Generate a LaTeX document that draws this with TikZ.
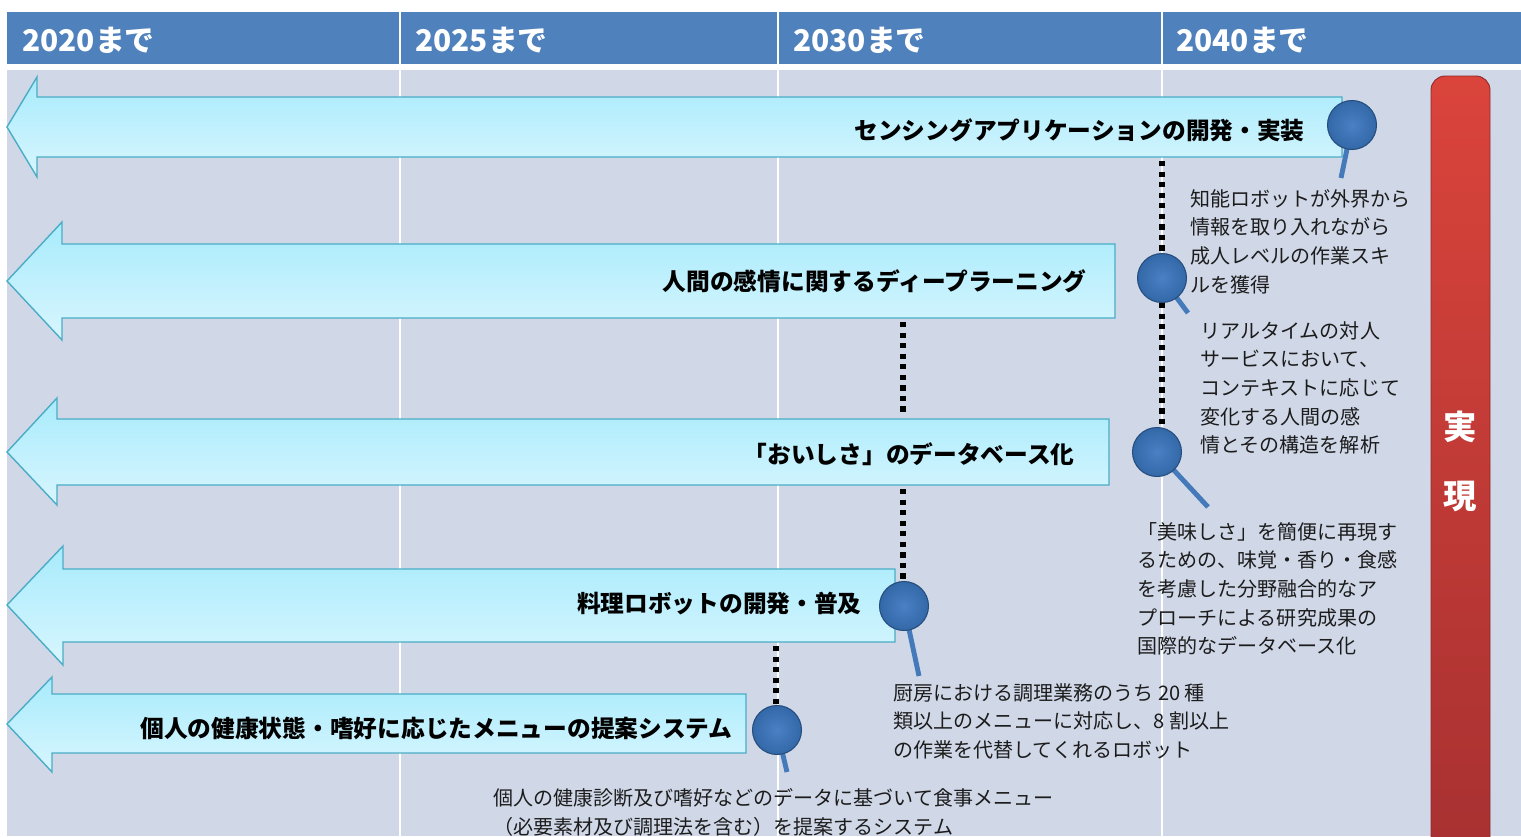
\documentclass[tikz,border=0pt]{standalone}
\usepackage{fontspec}
\setmainfont{Noto Sans CJK JP}
\usetikzlibrary{positioning, calc}
\definecolor{headblue}{HTML}{4F81BD}
\definecolor{bodygrey}{HTML}{D0D8E8}
\definecolor{arrowedge}{HTML}{4BACC6}
\definecolor{arrowtop}{HTML}{A8EBFC}
\definecolor{arrowbot}{HTML}{D8F6FE}
\definecolor{pinblue}{HTML}{3A76BF}
\definecolor{stickblue}{HTML}{4479BA}
\definecolor{realred}{HTML}{DA443B}
\definecolor{realdark}{HTML}{A83131}
\definecolor{inkblack}{HTML}{1C1C1C}

\begin{document}
\begin{tikzpicture}[
  x=0.02cm, y=-0.02cm,
  year/.style={anchor=west, font=\fontsize{17}{20}\selectfont\bfseries, text=white, inner sep=0pt},
  barrow/.style={draw=arrowedge, line width=0.8pt, top color=arrowtop, bottom color=arrowbot},
  goal/.style={anchor=east, font=\fontsize{13.5}{16}\selectfont\bfseries, text=black, inner sep=0pt},
  note/.style={anchor=north west, align=left, font=\fontsize{11.4}{16.3}\selectfont, text=inkblack, inner sep=0pt},
  pin/.style={circle, minimum size=0.98cm, inner sep=0pt, draw=pinblue!65!black, line width=0.6pt,
              inner color=pinblue!92!white, outer color=pinblue!88!black},
  stick/.style={stickblue, line width=2.8pt},
  dots/.style={black, line width=3pt, dash pattern=on 3pt off 3pt},
  realtext/.style={font=\fontsize{19}{22}\selectfont\bfseries, text=white, inner sep=0pt}
]
  \useasboundingbox (0,0) rectangle (1521,836);

  % Header row and body
  \fill[headblue] (7,12) rectangle (1521,64);
  \fill[bodygrey] (7,70) rectangle (1521,836);
  \draw[white, line width=1.2pt] (400,12) -- (400,836);
  \draw[white, line width=1.2pt] (778,12) -- (778,836);
  \draw[white, line width=1.2pt] (1162,12) -- (1162,836);

  \node[year] (y2020) at (22,40) {2020まで};
  \node[year] (y2025) at (415,40) {2025まで};
  \node[year] (y2030) at (793,40) {2030まで};
  \node[year] (y2040) at (1176,40) {2040まで};

  % Block arrows
  \path[barrow] (7,127) -- (37,77) -- (37,97) -- (1342,97) -- (1342,157) -- (37,157) -- (37,177) -- cycle;
  \path[barrow] (7,281) -- (62,222) -- (62,244) -- (1115,244) -- (1115,318) -- (62,318) -- (62,340) -- cycle;
  \path[barrow] (7,452) -- (57,398) -- (57,419) -- (1109,419) -- (1109,485) -- (57,485) -- (57,505) -- cycle;
  \path[barrow] (7,605) -- (63,546) -- (63,569) -- (895,569) -- (895,642) -- (63,642) -- (63,665) -- cycle;
  \path[barrow] (7,724) -- (52,677) -- (52,694) -- (746,694) -- (746,753) -- (52,753) -- (52,772) -- cycle;

  \node[goal] (g1) at (1305,130) {センシングアプリケーションの開発・実装};
  \node[goal] (g2) at (1087,281) {人間の感情に関するディープラーニング};
  \node[goal] (g3) at (1075,454) {「おいしさ」のデータベース化};
  \node[goal] (g4) at (862,604) {料理ロボットの開発・普及};
  \node[goal] (g5) at (733,728) {個人の健康状態・嗜好に応じたメニューの提案システム};

  \coordinate (a1low) at (1162,161);
  \coordinate (a2low) at (903,322);
  \coordinate (a3top) at (903,415);
  \coordinate (a3low) at (903,489);
  \coordinate (a4low) at (776,646);

  % Pins
  \coordinate (c1) at (1352,125);
  \coordinate (c2) at (1162,278);
  \coordinate (c3) at (1157,452);
  \coordinate (c4) at (904,606);
  \coordinate (c5) at (777,730);
  \draw[stick] (c1) -- (1341,178);
  \draw[stick] (c2) -- (1188,313);
  \draw[stick] (c3) -- (1208,507);
  \draw[stick] (c4) -- (919,676);
  \draw[stick] (c5) -- (787,772);
  \node[pin] (p1) at (c1) {};
  \node[pin] (p2) at (c2) {};
  \node[pin] (p3) at (c3) {};
  \node[pin] (p4) at (c4) {};
  \node[pin] (p5) at (c5) {};

  % Dotted links
  \draw[dots] (a1low) -- (p2.north);
  \draw[dots] (p2.south) -- (p2.south |- p3.north);
  \draw[dots] (a2low) -- (a3top);
  \draw[dots] (a3low) -- (a3low |- p4.north);
  \draw[dots] (a4low) -- (a4low |- p5.north);

  % Notes
  \node[note] (t1) at (1190,189) {知能ロボットが外界から\\情報を取り入れながら\\成人レベルの作業スキ\\ルを獲得};
  \node[note] (t2) at (1200,321) {リアルタイムの対人\\サービスにおいて、\\コンテキストに応じて\\変化する人間の感\\情とその構造を解析};
  \node[note] (t3) at (1137,522) {「美味しさ」を簡便に再現す\\るための、味覚・香り・食感\\を考慮した分野融合的なア\\プローチによる研究成果の\\国際的なデータベース化};
  \node[note] (t4) at (893,683) {厨房における調理業務のうち 20 種\\類以上のメニューに対応し、8 割以上\\の作業を代替してくれるロボット};
  \node[note] (t5) at (493,788) {個人の健康診断及び嗜好などのデータに基づいて食事メニュー\\（必要素材及び調理法を含む）を提案するシステム};

  % Realisation bar
  \shade[top color=realred, bottom color=realdark, draw=realdark!85!black, line width=0.5pt, rounded corners=8]
    (1431,850) -- (1431,76) -- (1490,76) -- (1490,850);
  \node[realtext] (r1) at (1460,427) {実};
  \node[realtext] (r2) at (1460,497) {現};
\end{tikzpicture}
\end{document}
